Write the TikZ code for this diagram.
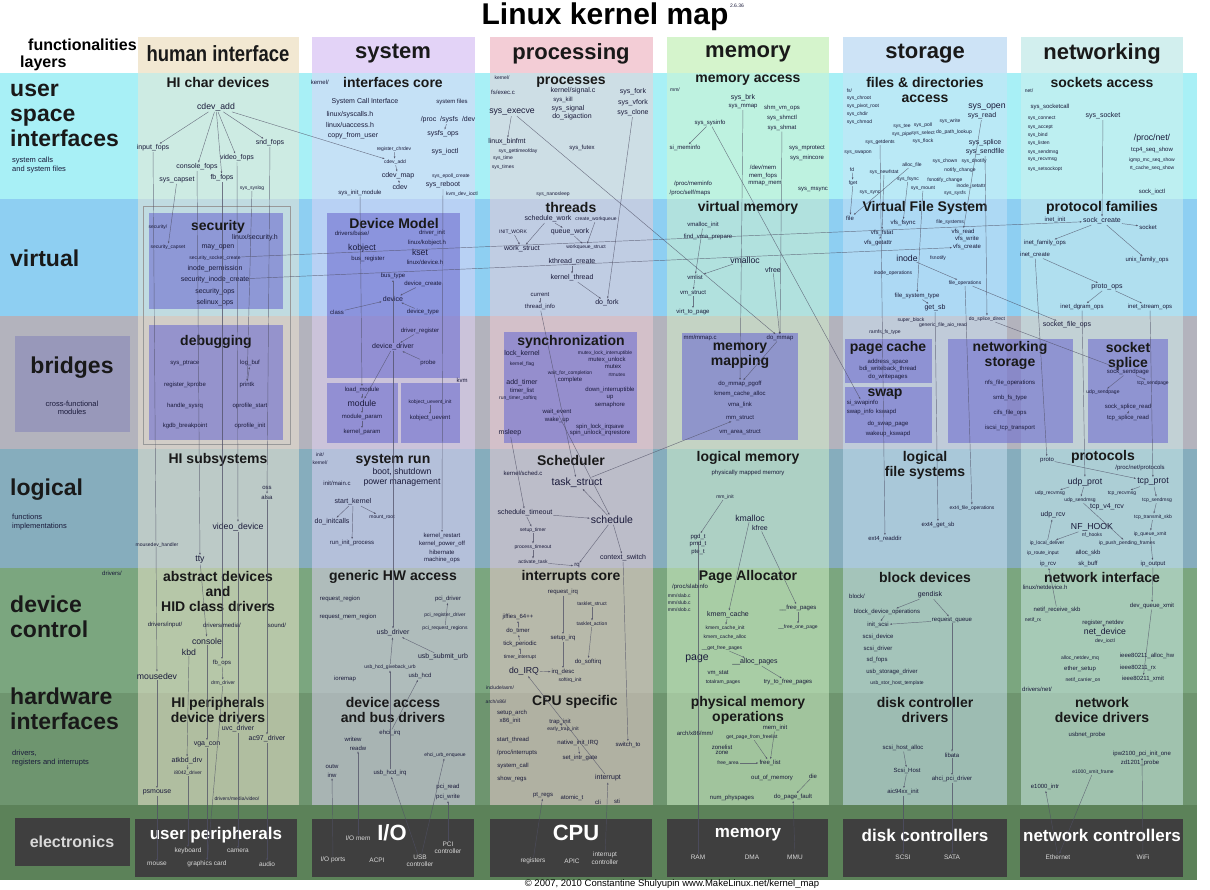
\documentclass[tikz,border=0pt]{standalone}
\usepackage{fontspec}
\setmainfont{Liberation Sans}
\usetikzlibrary{arrows.meta}

\definecolor{rowuser}{HTML}{A8F0F6}
\definecolor{rowvirt}{HTML}{8ECFF2}
\definecolor{rowbridge}{HTML}{B3B3BD}
\definecolor{rowlogic}{HTML}{86ADBD}
\definecolor{rowdev}{HTML}{7BA67F}
\definecolor{rowhw}{HTML}{6E956F}
\definecolor{rowelec}{HTML}{5C8259}
\definecolor{colhi}{HTML}{F2E8D2}
\definecolor{colsys}{HTML}{E3D3F7}
\definecolor{colproc}{HTML}{F3CDD6}
\definecolor{colmem}{HTML}{D5F4CC}
\definecolor{colsto}{HTML}{CDE3F6}
\definecolor{colnet}{HTML}{D2EFEE}
\definecolor{subfill}{HTML}{7070D0}
\definecolor{bridgebox}{HTML}{9898BA}
\definecolor{elgrey}{HTML}{3F3F3F}
\definecolor{ink}{HTML}{1A1A3A}
\definecolor{linkgrey}{HTML}{505066}

\tikzset{
  tn/.style={font=\fontsize{5}{6}\selectfont, inner sep=.6pt, text=ink},
  xs/.style={font=\fontsize{6}{7}\selectfont, inner sep=.6pt, text=ink},
  sm/.style={font=\fontsize{7}{8}\selectfont, inner sep=.7pt, text=ink},
  md/.style={font=\fontsize{8.7}{10}\selectfont, inner sep=.7pt, text=ink},
  lg/.style={font=\fontsize{10.5}{12}\selectfont, inner sep=.7pt, text=ink},
  sect/.style={font=\fontsize{14}{15}\selectfont\bfseries, align=center, inner sep=0pt, text=black!90},
  colhead/.style={font=\fontsize{22}{24}\selectfont\bfseries, inner sep=0pt, text=black!90},
  rowlab/.style={font=\fontsize{23}{25}\selectfont\bfseries, anchor=north west, align=left, inner sep=0pt, text=black!90},
  rownote/.style={font=\fontsize{7.5}{8.5}\selectfont, anchor=north west, align=left, inner sep=0pt, text=ink},
  subbox/.style={fill=subfill, fill opacity=.62},
  elbox/.style={fill=elgrey},
  eltitle/.style={font=\fontsize{17}{18}\selectfont\bfseries, text=white, inner sep=0pt},
  elsub/.style={font=\fontsize{6.5}{7.5}\selectfont, text=white!85!black, align=center, inner sep=.5pt},
  link/.style={draw=linkgrey, draw opacity=.75, line width=.45pt, -{Latex[length=2.4pt,width=1.8pt]}},
}

\begin{document}
\begin{tikzpicture}[x=1pt, y=-1pt]
\useasboundingbox (0,0) rectangle (1210,890);

% rows (layers)
\fill[rowuser] (0,73) rectangle (1197,199);
\fill[rowvirt] (0,199) rectangle (1197,316);
\fill[rowbridge] (0,316) rectangle (1197,449);
\fill[rowlogic] (0,449) rectangle (1197,568);
\fill[rowdev] (0,568) rectangle (1197,693);
\fill[rowhw] (0,693) rectangle (1197,805);
\fill[rowelec] (0,805) rectangle (1197,880);

% columns (functionalities)
\foreach \xa/\xb/\cc in {138/299/colhi, 312/475/colsys, 490/653/colproc, 667/829/colmem, 843/1007/colsto, 1021/1183/colnet}{
  \fill[\cc] (\xa,37) rectangle (\xb,73);
  \fill[\cc, fill opacity=.5] (\xa,73) rectangle (\xb,805);
}

% inner boxes
\draw[draw=black!40, line width=.6pt] (143,206) rectangle (290,444);
\fill[subbox] (149,213) rectangle (283,309);
\fill[subbox] (149,325) rectangle (283,440);
\fill[subbox] (327,213) rectangle (460,378);
\fill[subbox] (327,383) rectangle (398,443);
\fill[subbox] (401,383) rectangle (460,443);
\fill[subbox] (504,332) rectangle (637,443);
\fill[subbox] (682,333) rectangle (798,440);
\fill[subbox] (845,339) rectangle (932,383);
\fill[subbox] (845,387) rectangle (932,443);
\fill[subbox] (948,339) rectangle (1073,443);
\fill[subbox] (1088,339) rectangle (1168,443);

% electronics boxes
\fill[bridgebox] (15,336) rectangle (130,432);
\fill[elbox] (15,818) rectangle (130,866);
\foreach \xa/\xb in {135/297, 312/474, 490/652, 667/828, 843/1007, 1020/1183}{
  \fill[elbox] (\xa,819) rectangle (\xb,877);
}

% title and heads
\node[font=\fontsize{30}{32}\selectfont\bfseries, inner sep=0pt] (title) at (605,17) {Linux kernel map};
\node[tn] (version) at (737,6) {2.6.36};
\node[font=\fontsize{16}{17}\selectfont\bfseries, anchor=west, inner sep=0pt] (lfunc) at (28,45) {functionalities};
\node[font=\fontsize{16}{17}\selectfont\bfseries, anchor=west, inner sep=0pt] (llayers) at (20,63) {layers};
\node[colhead] (hhead) at (218,54) {\scalebox{.84}[1]{human interface}};
\node[colhead] (shead) at (393,54) {system};
\node[colhead] (phead) at (571,54) {processing};
\node[colhead] (mhead) at (748,54) {memory};
\node[colhead] (fhead) at (925,54) {storage};
\node[colhead] (nhead) at (1102,54) {networking};

% layer labels
\node[rowlab] (luser) at (10,84) {user\\space\\interfaces};
\node[rownote] (lusernote) at (12,157) {system calls\\and system files};
\node[rowlab, anchor=west] (lvirt) at (10,258) {virtual};
\node[rowlab, anchor=center, align=center] (lbridge) at (72,368) {bridges};
\node[rownote, anchor=center, align=center] (lbridgenote) at (72,408) {cross-functional\\modules};
\node[rowlab, anchor=west] (llogic) at (10,490) {logical};
\node[rownote] (llogicnote) at (12,514) {functions\\implementations};
\node[rowlab] (ldev) at (10,596) {device\\control};
\node[rowlab] (lhw) at (10,688) {hardware\\interfaces};
\node[rownote] (lhwnote) at (12,750) {drivers,\\registers and interrupts};
\node[font=\fontsize{16}{17}\selectfont\bfseries, text=white!85!black] (lelec) at (72,842) {electronics};
\node[xs] (ldrivers) at (112,573) {drivers/};

% human interface
\node[sect] (hchar) at (218,83) {HI char devices};
\node[md] (hcdev) at (216,107) {cdev\_add};
\node[sm] (hinput) at (153,148) {input\_fops};
\node[sm] (hsnd) at (270,143) {snd\_fops};
\node[sm] (hvideo) at (237,158) {video\_fops};
\node[sm] (hconsole) at (197,167) {console\_fops};
\node[sm] (hcapset) at (177,180) {sys\_capset};
\node[sm] (hfb) at (222,178) {fb\_fops};
\node[tn] (hsyslog) at (252,188) {sys\_syslog};
\node[tn] (hsecdir) at (158,227) {security/};
\node[sect] (hsec) at (218,227) {security};
\node[sm] (hsech) at (255,238) {linux/security.h};
\node[tn] (hseccap) at (168,247) {security\_capset};
\node[sm] (hmayopen) at (218,247) {may\_open};
\node[tn] (hsecsock) at (215,258) {security\_socket\_create};
\node[sm] (hinodeperm) at (215,269) {inode\_permission};
\node[sm] (hsecinode) at (215,280) {security\_inode\_create};
\node[sm] (hsecops) at (215,292) {security\_ops};
\node[sm] (hselinux) at (215,303) {selinux\_ops};
\node[sect] (hdebug) at (216,342) {debugging};
\node[xs] (hptrace) at (185,363) {sys\_ptrace};
\node[xs] (hlogbuf) at (250,363) {log\_buf};
\node[xs] (hkprobe) at (185,385) {register\_kprobe};
\node[xs] (hprintk) at (247,385) {printk};
\node[xs] (hsysrq) at (185,406) {handle\_sysrq};
\node[xs] (hopstart) at (250,406) {oprofile\_start};
\node[xs] (hkgdb) at (185,426) {kgdb\_breakpoint};
\node[xs] (hopinit) at (250,426) {oprofile\_init};
\node[sect] (hsubsys) at (218,460) {HI subsystems};
\node[xs] (hoss) at (267,488) {oss};
\node[xs] (halsa) at (267,497) {alsa};
\node[md] (hviddev) at (238,527) {video\_device};
\node[tn] (hmousehandler) at (157,545) {mousedev\_handler};
\node[md] (htty) at (200,560) {tty};
\node[sect] (habstract) at (218,591) {abstract devices\\and\\HID class drivers};
\node[xs] (hdrvinput) at (165,625) {drivers/input/};
\node[xs] (hdrvmedia) at (222,625) {drivers/media/};
\node[xs] (hsound) at (277,625) {sound/};
\node[md] (hcons) at (207,641) {console};
\node[md] (hkbd) at (189,652) {kbd};
\node[xs] (hfbops) at (222,663) {fb\_ops};
\node[md] (hmousedev) at (157,676) {mousedev};
\node[tn] (hdrm) at (223,683) {drm\_driver};
\node[sect] (hperiph) at (218,710) {HI peripherals\\device drivers};
\node[sm] (huvc) at (238,729) {uvc\_driver};
\node[sm] (hac97) at (267,739) {ac97\_driver};
\node[sm] (hvgacon) at (207,744) {vga\_con};
\node[sm] (hatkbd) at (187,761) {atkbd\_drv};
\node[tn] (hi8042) at (188,773) {i8042\_driver};
\node[sm] (hpsmouse) at (157,792) {psmouse};
\node[tn] (hdrvvideo) at (237,799) {drivers/media/video/};
\node[eltitle] (hperipherals) at (216,835) {user peripherals};
\node[elsub] (hkeyboard) at (188,851) {keyboard};
\node[elsub] (hcamera) at (238,851) {camera};
\node[elsub] (hmouse) at (157,864) {mouse};
\node[elsub] (hgraphics) at (207,864) {graphics card};
\node[elsub] (haudio) at (267,864) {audio};

% system
\node[sect] (score) at (393,83) {interfaces core};
\node[xs, anchor=west] (skernel) at (310,82) {kernel/};
\node[sm] (ssci) at (365,102) {System Call Interface};
\node[xs] (sfiles) at (452,102) {system files};
\node[sm] (ssyscalls) at (350,115) {linux/syscalls.h};
\node[sm] (suaccess) at (350,125) {linux/uaccess.h};
\node[sm] (scopy) at (353,136) {copy\_from\_user};
\node[sm] (sproc) at (448,120) {/proc \ /sysfs \ /dev};
\node[sm] (ssysfsops) at (443,134) {sysfs\_ops};
\node[tn] (sregchr) at (394,149) {register\_chrdev};
\node[tn] (scdevadd) at (395,162) {cdev\_add};
\node[sm] (scdevmap) at (398,176) {cdev\_map};
\node[sm] (scdev) at (400,187) {cdev};
\node[sm] (sioctl) at (445,152) {sys\_ioctl};
\node[tn] (sepoll) at (451,176) {sys\_epoll\_create};
\node[sm] (sreboot) at (443,185) {sys\_reboot};
\node[tn] (skvmioctl) at (462,194) {kvm\_dev\_ioctl};
\node[xs] (sinitmod) at (360,193) {sys\_init\_module};
\node[sect] (sdm) at (394,223) {Device Model};
\node[xs] (sbase) at (352,233) {drivers/base/};
\node[xs] (sdrvinit) at (432,233) {driver\_init};
\node[xs] (skobjh) at (427,243) {linux/kobject.h};
\node[md] (skobj) at (362,248) {kobject};
\node[md] (skset) at (420,252) {kset};
\node[xs] (sbusreg) at (368,259) {bus\_register};
\node[xs] (sdevh) at (425,262) {linux/device.h};
\node[xs] (sbustype) at (393,276) {bus\_type};
\node[xs] (sdevcreate) at (423,284) {device\_create};
\node[sm] (sdevice) at (393,299) {device};
\node[xs] (sclass) at (337,312) {class};
\node[xs] (sdevtype) at (423,312) {device\_type};
\node[xs] (sdrvreg) at (420,331) {driver\_register};
\node[sm] (sdevdrv) at (393,347) {device\_driver};
\node[xs] (sprobe) at (428,363) {probe};
\node[xs] (skvm) at (462,380) {kvm};
\node[xs] (sloadmod) at (362,390) {load\_module};
\node[md] (smodule) at (362,403) {module};
\node[xs] (smodparam) at (362,417) {module\_param};
\node[xs] (skparam) at (362,432) {kernel\_param};
\node[tn] (suevinit) at (430,402) {kobject\_uevent\_init};
\node[xs] (suevent) at (430,418) {kobject\_uevent};
\node[sect] (srun) at (393,460) {system run};
\node[md, align=center] (sboot) at (402,477) {boot, shutdown\\power management};
\node[tn] (sinit) at (320,455) {init/};
\node[tn] (skernel2) at (320,463) {kernel/};
\node[xs] (smainc) at (337,483) {init/main.c};
\node[sm] (sstart) at (353,502) {start\_kernel};
\node[tn] (smount) at (382,517) {mount\_root};
\node[sm] (sinitcalls) at (332,522) {do\_initcalls};
\node[xs] (sruninit) at (352,543) {run\_init\_process};
\node[xs] (srestart) at (442,536) {kernel\_restart};
\node[xs] (spoweroff) at (442,544) {kernel\_power\_off};
\node[xs] (shibernate) at (442,552) {hibernate};
\node[xs] (smachine) at (442,560) {machine\_ops};
\node[sect] (sgeneric) at (393,577) {generic HW access};
\node[xs] (sreqreg) at (340,599) {request\_region};
\node[xs] (sreqmem) at (348,617) {request\_mem\_region};
\node[xs] (spcidrv) at (448,599) {pci\_driver};
\node[tn] (spcireg) at (445,615) {pci\_register\_driver};
\node[tn] (spcireq) at (445,628) {pci\_request\_regions};
\node[sm] (susbdrv) at (393,633) {usb\_driver};
\node[sm] (susbsubmit) at (443,657) {usb\_submit\_urb};
\node[tn] (sgiveback) at (390,667) {usb\_hcd\_giveback\_urb};
\node[xs] (sioremap) at (345,679) {ioremap};
\node[xs] (susbhcd) at (420,676) {usb\_hcd};
\node[sect] (sdevaccess) at (393,710) {device access\\and bus drivers};
\node[xs] (sehciirq) at (390,733) {ehci\_irq};
\node[xs] (swritew) at (353,739) {writew};
\node[xs] (sreadw) at (358,748) {readw};
\node[tn] (sehciurb) at (445,755) {ehci\_urb\_enqueue};
\node[xs] (soutw) at (332,767) {outw};
\node[xs] (sinw) at (332,775) {inw};
\node[xs] (susbhcdirq) at (390,773) {usb\_hcd\_irq};
\node[xs] (spciread) at (448,787) {pci\_read};
\node[xs] (spciwrite) at (448,797) {pci\_write};
\node[font=\fontsize{22}{24}\selectfont\bfseries, text=white, inner sep=0pt] (sio) at (392,833) {I/O};
\node[elsub] (siomem) at (358,838) {I/O mem};
\node[elsub] (spcictl) at (448,848) {PCI\\controller};
\node[elsub] (sioports) at (333,860) {I/O ports};
\node[elsub] (sacpi) at (377,860) {ACPI};
\node[elsub] (susbctl) at (420,861) {USB\\controller};

% processing
\node[sect] (pprocs) at (571,82) {processes};
\node[tn] (pkernel) at (502,78) {kernel/};
\node[xs] (pexec) at (503,92) {fs/exec.c};
\node[sm] (psignalc) at (573,91) {kernel/signal.c};
\node[xs] (pkill) at (563,100) {sys\_kill};
\node[sm] (psignal) at (568,109) {sys\_signal};
\node[sm] (psigaction) at (572,117) {do\_sigaction};
\node[sm] (pfork) at (633,92) {sys\_fork};
\node[sm] (pvfork) at (633,103) {sys\_vfork};
\node[sm] (pclone) at (633,113) {sys\_clone};
\node[md] (pexecve) at (512,112) {sys\_execve};
\node[sm] (pbinfmt) at (507,142) {linux\_binfmt};
\node[tn] (pgtod) at (518,151) {sys\_gettimeofday};
\node[tn] (ptime) at (503,158) {sys\_time};
\node[tn] (ptimes) at (503,167) {sys\_times};
\node[xs] (pfutex) at (582,148) {sys\_futex};
\node[tn] (pnanosleep) at (553,194) {sys\_nanosleep};
\node[sect] (pthreads) at (571,207) {threads};
\node[sm] (pschedwork) at (548,219) {schedule\_work};
\node[tn] (pcreatewq) at (596,219) {create\_workqueue};
\node[tn] (pinitwork) at (513,232) {INIT\_WORK};
\node[sm] (pqueuework) at (570,232) {queue\_work};
\node[sm] (pworkstruct) at (522,249) {work\_struct};
\node[tn] (pwqstruct) at (586,247) {workqueue\_struct};
\node[sm] (pkthread) at (572,262) {kthread\_create};
\node[sm] (pkernthread) at (572,278) {kernel\_thread};
\node[xs] (pcurrent) at (540,295) {current};
\node[xs] (pthreadinfo) at (540,307) {thread\_info};
\node[sm] (pdofork) at (607,303) {do\_fork};
\node[sect] (psync) at (571,342) {synchronization};
\node[sm] (plockkernel) at (522,354) {lock\_kernel};
\node[tn] (pkernelflag) at (522,364) {kernel\_flag};
\node[tn] (pmutexint) at (605,353) {mutex\_lock\_interruptible};
\node[xs] (pmutexunlock) at (607,360) {mutex\_unlock};
\node[xs] (pmutex) at (613,367) {mutex};
\node[tn] (prtmutex) at (617,375) {rtmutex};
\node[tn] (pwaitcompl) at (570,373) {wait\_for\_completion};
\node[xs] (pcomplete) at (570,380) {complete};
\node[sm] (paddtimer) at (522,383) {add\_timer};
\node[xs] (ptimerlist) at (522,391) {timer\_list};
\node[tn] (prunsoftirq) at (518,398) {run\_timer\_softirq};
\node[xs] (pdownint) at (610,390) {down\_interruptible};
\node[xs] (pup) at (610,398) {up};
\node[xs] (psemaphore) at (610,405) {semaphore};
\node[xs] (pwaitevent) at (557,412) {wait\_event};
\node[xs] (pwakeup) at (557,420) {wake\_up};
\node[xs] (pspinlock) at (600,427) {spin\_lock\_irqsave};
\node[xs] (pspinunlock) at (600,433) {spin\_unlock\_irqrestore};
\node[sm] (pmsleep) at (510,433) {msleep};
\node[sect] (psched) at (571,460) {Scheduler};
\node[xs] (pschedc) at (523,473) {kernel/sched.c};
\node[lg] (ptaskstruct) at (577,483) {task\_struct};
\node[sm] (pschedtimeout) at (525,513) {schedule\_timeout};
\node[lg] (pschedule) at (612,520) {schedule};
\node[tn] (psetuptimer) at (533,530) {setup\_timer};
\node[tn] (pproctimeout) at (533,547) {process\_timeout};
\node[tn] (pactivate) at (533,562) {activate\_task};
\node[xs] (prq) at (577,566) {rq};
\node[sm] (pctxswitch) at (623,558) {context\_switch};
\node[sect] (pirqcore) at (571,577) {interrupts core};
\node[xs] (preqirq) at (563,592) {request\_irq};
\node[tn] (ptaskletstruct) at (592,604) {tasklet\_struct};
\node[xs] (pjiffies) at (518,617) {jiffies\_64++};
\node[tn] (ptaskletaction) at (592,624) {tasklet\_action};
\node[xs] (pdotimer) at (518,631) {do\_timer};
\node[xs] (psetupirq) at (563,638) {setup\_irq};
\node[xs] (ptickper) at (520,644) {tick\_periodic};
\node[tn] (ptimerint) at (520,657) {timer\_interrupt};
\node[xs] (pdosoftirq) at (588,662) {do\_softirq};
\node[md] (pdoirq) at (524,671) {do\_IRQ};
\node[xs] (pirqdesc) at (563,672) {irq\_desc};
\node[tn] (psoftirqinit) at (570,680) {softirq\_init};
\node[tn] (pincasm) at (500,688) {include/asm/};
\node[sect] (pcpuspec) at (575,702) {CPU specific};
\node[tn] (parch) at (496,702) {arch/x86/};
\node[xs] (psetuparch) at (512,713) {setup\_arch};
\node[xs] (px86init) at (510,721) {x86\_init};
\node[xs] (ptrapinit) at (560,722) {trap\_init};
\node[tn] (pearlytrap) at (563,729) {early\_trap\_init};
\node[xs] (pstartthread) at (513,740) {start\_thread};
\node[xs] (pnativeirq) at (578,743) {native\_init\_IRQ};
\node[xs] (pswitchto) at (628,745) {switch\_to};
\node[xs] (pprocint) at (517,753) {/proc/interrupts};
\node[xs] (psetintr) at (580,758) {set\_intr\_gate};
\node[xs] (psyscall) at (513,766) {system\_call};
\node[xs] (pshowregs) at (512,779) {show\_regs};
\node[sm] (pinterrupt) at (608,778) {interrupt};
\node[xs] (pptregs) at (543,795) {pt\_regs};
\node[xs] (patomic) at (572,798) {atomic\_t};
\node[xs] (pcli) at (598,802) {cli};
\node[xs] (psti) at (617,801) {sti};
\node[font=\fontsize{22}{24}\selectfont\bfseries, text=white, inner sep=0pt] (pcpu) at (576,833) {CPU};
\node[elsub] (pregisters) at (533,861) {registers};
\node[elsub] (papic) at (572,861) {APIC};
\node[elsub] (pintctl) at (605,858) {interrupt\\controller};

% memory
\node[sect] (maccess) at (748,80) {memory access};
\node[tn] (mmm) at (675,90) {mm/};
\node[sm] (mbrk) at (743,98) {sys\_brk};
\node[xs] (msysmmap) at (743,107) {sys\_mmap};
\node[xs] (mshmvmops) at (782,108) {shm\_vm\_ops};
\node[xs] (mshmctl) at (782,118) {sys\_shmctl};
\node[xs] (mshmat) at (782,128) {sys\_shmat};
\node[xs] (msysinfo) at (710,123) {sys\_sysinfo};
\node[xs] (msimeminfo) at (685,148) {si\_meminfo};
\node[xs] (mmprotect) at (807,148) {sys\_mprotect};
\node[xs] (mmincore) at (807,158) {sys\_mincore};
\node[xs] (mdevmem) at (763,167) {/dev/mem};
\node[xs] (mmemfops) at (763,176) {mem\_fops};
\node[xs] (mmmapmem) at (765,184) {mmap\_mem};
\node[xs] (mprocmeminfo) at (693,184) {/proc/meminfo};
\node[xs] (mprocmaps) at (690,193) {/proc/self/maps};
\node[xs] (mmsync) at (813,190) {sys\_msync};
\node[sect] (mvirt) at (748,208) {virtual memory};
\node[xs] (mvmallocinit) at (703,225) {vmalloc\_init};
\node[xs] (mfindvma) at (708,237) {find\_vma\_prepare};
\node[md] (mvmalloc) at (745,260) {vmalloc};
\node[sm] (mvfree) at (773,270) {vfree};
\node[xs] (mvmlist) at (695,277) {vmlist};
\node[xs] (mvmstruct) at (693,293) {vm\_struct};
\node[xs] (mvirttopage) at (693,312) {virt\_to\_page};
\node[xs] (mmmapc) at (700,338) {mm/mmap.c};
\node[xs] (mdommap) at (780,338) {do\_mmap};
\node[sect] (mmapping) at (740,356) {memory\\mapping};
\node[xs] (mdommappgoff) at (740,384) {do\_mmap\_pgoff};
\node[xs] (mkmcalloc) at (740,394) {kmem\_cache\_alloc};
\node[xs] (mvmalink) at (740,405) {vma\_link};
\node[xs] (mmmstruct) at (740,418) {mm\_struct};
\node[xs] (mvmarea) at (740,432) {vm\_area\_struct};
\node[sect] (mlogical) at (748,458) {logical memory};
\node[xs] (mphysmapped) at (748,473) {physically mapped memory};
\node[tn] (mmminit) at (725,497) {mm\_init};
\node[md] (mkmalloc) at (750,518) {kmalloc};
\node[sm] (mkfree) at (760,528) {kfree};
\node[xs] (mpgd) at (698,537) {pgd\_t};
\node[xs] (mpmd) at (698,544) {pmd\_t};
\node[xs] (mpte) at (698,552) {pte\_t};
\node[sect] (mpagealloc) at (748,577) {Page Allocator};
\node[xs] (mslabinfo) at (690,587) {/proc/slabinfo};
\node[tn, anchor=west] (mslab) at (667,596) {mm/slab.c};
\node[tn, anchor=west] (mslub) at (667,603) {mm/slub.c};
\node[tn, anchor=west] (mslob) at (667,610) {mm/slob.c};
\node[sm] (mkmemcache) at (728,615) {kmem\_cache};
\node[xs] (mfreepages) at (798,608) {\_\_free\_pages};
\node[tn] (mkmcinit) at (725,628) {kmem\_cache\_init};
\node[tn] (mkmcalloc2) at (725,637) {kmem\_cache\_alloc};
\node[tn] (mfreeonepage) at (798,627) {\_\_free\_one\_page};
\node[tn] (mgetfree) at (722,648) {\_\_get\_free\_pages};
\node[lg] (mpage) at (697,659) {page};
\node[sm] (mallocpages) at (755,662) {\_\_alloc\_pages};
\node[xs] (mvmstat) at (718,673) {vm\_stat};
\node[tn] (mtotalram) at (723,682) {totalram\_pages};
\node[xs] (mtrytofree) at (788,682) {try\_to\_free\_pages};
\node[sect] (mphysops) at (748,710) {physical memory\\operations};
\node[xs] (marchmm) at (695,733) {arch/x86/mm/};
\node[xs] (mmeminit) at (775,728) {mem\_init};
\node[tn] (mgetpage) at (752,737) {get\_page\_from\_freelist};
\node[xs] (mzonelist) at (722,747) {zonelist};
\node[xs] (mzone) at (722,753) {zone};
\node[tn] (mfreearea) at (728,763) {free\_area};
\node[xs] (mfreelist) at (770,763) {free\_list};
\node[xs] (moom) at (772,778) {out\_of\_memory};
\node[xs] (mdie) at (813,776) {die};
\node[xs] (mnumphys) at (732,798) {num\_physpages};
\node[xs] (mdopagefault) at (793,797) {do\_page\_fault};
\node[eltitle] (mmemory) at (748,835) {memory};
\node[elsub] (mram) at (698,857) {RAM};
\node[elsub] (mdma) at (752,857) {DMA};
\node[elsub] (mmmu) at (795,857) {MMU};

% storage
\node[sect] (ffiles) at (925,90) {files \& directories\\access};
\node[tn, anchor=west] (ffs) at (846,91) {fs/};
\node[tn, anchor=west] (fchroot) at (846,98) {sys\_chroot};
\node[tn, anchor=west] (fpivot) at (846,106) {sys\_pivot\_root};
\node[tn, anchor=west] (fchdir) at (846,114) {sys\_chdir};
\node[tn, anchor=west] (fchmod) at (846,122) {sys\_chmod};
\node[md] (fsysopen) at (987,107) {sys\_open};
\node[sm] (fsysread) at (982,116) {sys\_read};
\node[tn] (fsyswrite) at (950,121) {sys\_write};
\node[tn] (ftee) at (902,126) {sys\_tee};
\node[tn] (fpipe) at (902,134) {sys\_pipe};
\node[tn] (fpoll) at (923,125) {sys\_poll};
\node[tn] (fselect) at (923,133) {sys\_select};
\node[tn] (fflock) at (923,141) {sys\_flock};
\node[tn] (fpathlookup) at (954,132) {do\_path\_lookup};
\node[tn] (fgetdents) at (880,142) {sys\_getdents};
\node[sm] (fsplice) at (985,143) {sys\_splice};
\node[sm] (fsendfile) at (985,152) {sys\_sendfile};
\node[tn] (fswapon) at (858,153) {sys\_swapon};
\node[tn] (fallocfile) at (912,165) {alloc\_file};
\node[tn] (ffd) at (852,170) {fd};
\node[tn] (ffget) at (853,183) {fget};
\node[tn] (fnewfstat) at (884,172) {sys\_newfstat};
\node[tn] (fchown) at (945,161) {sys\_chown};
\node[tn] (fdnotify) at (974,161) {sys\_dnotify};
\node[tn] (fnotifychange) at (960,170) {notify\_change};
\node[tn] (fsysfsync) at (908,179) {sys\_fsync};
\node[tn] (ffsnotifychange) at (945,180) {fsnotify\_change};
\node[tn] (fsysmount) at (923,188) {sys\_mount};
\node[tn] (finodesetattr) at (971,186) {inode\_setattr};
\node[tn] (fsync) at (870,193) {sys\_sync};
\node[tn] (fsysfs) at (955,193) {sys\_sysfs};
\node[sect] (fvfs) at (925,208) {Virtual File System};
\node[xs] (ffile) at (850,218) {file};
\node[xs] (fvfsfsync) at (903,223) {vfs\_fsync};
\node[tn] (ffilesystems) at (950,222) {file\_systems};
\node[xs] (fvfsfstat) at (882,233) {vfs\_fstat};
\node[xs] (fvfsread) at (963,232) {vfs\_read};
\node[xs] (fvfsgetattr) at (878,243) {vfs\_getattr};
\node[xs] (fvfswrite) at (967,239) {vfs\_write};
\node[xs] (fvfscreate) at (967,247) {vfs\_create};
\node[md] (finode) at (907,258) {inode};
\node[tn] (ffsnotify) at (938,258) {fsnotify};
\node[tn] (finodeops) at (893,273) {inode\_operations};
\node[tn] (ffops) at (965,283) {file\_operations};
\node[xs] (ffstype) at (917,296) {file\_system\_type};
\node[sm] (fgetsb) at (935,308) {get\_sb};
\node[tn] (fsuperblock) at (911,320) {super\_block};
\node[tn] (faioread) at (943,325) {generic\_file\_aio\_read};
\node[tn] (fsplicedirect) at (987,319) {do\_splice\_direct};
\node[tn] (framfs) at (885,332) {ramfs\_fs\_type};
\node[sect] (fpagecache) at (888,348) {page cache};
\node[xs] (faddrspace) at (888,362) {address\_space};
\node[xs] (fbdi) at (888,369) {bdi\_writeback\_thread};
\node[xs] (fwritepages) at (888,377) {do\_writepages};
\node[sect] (fswap) at (885,394) {swap};
\node[xs, anchor=west] (fsiswap) at (846,403) {si\_swapinfo};
\node[xs, anchor=west] (fswapinfo) at (846,412) {swap\_info};
\node[xs] (fkswapd) at (886,412) {kswapd};
\node[xs] (fdoswap) at (888,424) {do\_swap\_page};
\node[xs] (fwakeup) at (888,434) {wakeup\_kswapd};
\node[sect] (fnetstor) at (1010,355) {networking\\storage};
\node[xs] (fnfs) at (1010,383) {nfs\_file\_operations};
\node[xs] (fsmb) at (1010,398) {smb\_fs\_type};
\node[xs] (fcifs) at (1010,413) {cifs\_file\_ops};
\node[xs] (fiscsi) at (1010,428) {iscsi\_tcp\_transport};
\node[sect] (flogfs) at (925,465) {logical\\file systems};
\node[tn] (fext4fops) at (972,508) {ext4\_file\_operations};
\node[xs] (fext4getsb) at (938,525) {ext4\_get\_sb};
\node[xs] (fext4readdir) at (885,539) {ext4\_readdir};
\node[sect] (fblock) at (925,577) {block devices};
\node[xs] (fblockdir) at (857,596) {block/};
\node[sm] (fgendisk) at (930,595) {gendisk};
\node[xs] (fbdops) at (887,612) {block\_device\_operations};
\node[xs] (frq) at (952,620) {request\_queue};
\node[xs] (finitscsi) at (878,625) {init\_scsi};
\node[xs] (fscsidev) at (878,637) {scsi\_device};
\node[xs] (fscsidrv) at (878,649) {scsi\_driver};
\node[xs] (fsdfops) at (877,660) {sd\_fops};
\node[xs] (fusbstor) at (892,672) {usb\_storage\_driver};
\node[tn] (fusbhost) at (897,683) {usb\_stor\_host\_template};
\node[sect] (fdiskdrv) at (925,710) {disk controller\\drivers};
\node[xs] (fscsialloc) at (903,748) {scsi\_host\_alloc};
\node[xs] (flibata) at (952,755) {libata};
\node[xs] (fscsihost) at (907,771) {Scsi\_Host};
\node[xs] (fahci) at (952,779) {ahci\_pci\_driver};
\node[xs] (faic) at (903,792) {aic94xx\_init};
\node[eltitle] (fdisk) at (925,835) {disk controllers};
\node[elsub] (fscsi) at (903,857) {SCSI};
\node[elsub] (fsata) at (952,857) {SATA};

% networking
\node[sect] (nsockacc) at (1102,83) {sockets access};
\node[tn, anchor=west] (nnet) at (1024,91) {net/};
\node[xs] (nsocketcall) at (1050,107) {sys\_socketcall};
\node[tn, anchor=west] (nconnect) at (1027,118) {sys\_connect};
\node[tn, anchor=west] (naccept) at (1027,127) {sys\_accept};
\node[tn, anchor=west] (nbind) at (1027,135) {sys\_bind};
\node[tn, anchor=west] (nlisten) at (1027,143) {sys\_listen};
\node[tn, anchor=west] (nsendmsg) at (1027,152) {sys\_sendmsg};
\node[tn, anchor=west] (nrecvmsg) at (1027,160) {sys\_recvmsg};
\node[tn, anchor=west] (nsetsockopt) at (1027,169) {sys\_setsockopt};
\node[sm] (nsyssocket) at (1103,116) {sys\_socket};
\node[md] (nprocnet) at (1152,138) {/proc/net/};
\node[xs] (ntcp4seq) at (1152,150) {tcp4\_seq\_show};
\node[tn] (nigmpseq) at (1152,160) {igmp\_mc\_seq\_show};
\node[tn] (nrtcache) at (1152,168) {rt\_cache\_seq\_show};
\node[xs] (nsockioctl) at (1152,192) {sock\_ioctl};
\node[sect] (nprotofam) at (1102,208) {protocol families};
\node[xs] (ninetinit) at (1055,220) {inet\_init};
\node[sm] (nsockcreate) at (1102,221) {sock\_create};
\node[xs] (nsocket) at (1148,227) {socket};
\node[xs] (ninetfam) at (1045,243) {inet\_family\_ops};
\node[xs] (ninetcreate) at (1035,255) {inet\_create};
\node[xs] (nunixfam) at (1147,260) {unix\_family\_ops};
\node[sm] (nprotoops) at (1107,287) {proto\_ops};
\node[xs] (ndgram) at (1082,307) {inet\_dgram\_ops};
\node[xs] (nstream) at (1150,307) {inet\_stream\_ops};
\node[sm] (nsockfileops) at (1067,325) {socket\_file\_ops};
\node[sect] (nsplice) at (1128,356) {socket\\splice};
\node[xs] (nsendpage) at (1128,372) {sock\_sendpage};
\node[tn] (ntcpsendpage) at (1153,383) {tcp\_sendpage};
\node[tn] (nudpsendpage) at (1103,392) {udp\_sendpage};
\node[xs] (nsplread) at (1128,407) {sock\_splice\_read};
\node[xs] (ntcpsplread) at (1128,418) {tcp\_splice\_read};
\node[sect] (nprotocols) at (1103,457) {protocols};
\node[xs] (nproto) at (1047,460) {proto};
\node[xs] (nprocproto) at (1140,468) {/proc/net/protocols};
\node[md] (nudpprot) at (1085,482) {udp\_prot};
\node[md] (ntcpprot) at (1153,482) {tcp\_prot};
\node[tn] (nudprecv) at (1050,493) {udp\_recvmsg};
\node[tn] (nudpsend) at (1080,500) {udp\_sendmsg};
\node[tn] (ntcprecv) at (1122,493) {tcp\_recvmsg};
\node[tn] (ntcpsend) at (1157,500) {tcp\_sendmsg};
\node[sm] (ntcpv4rcv) at (1107,507) {tcp\_v4\_rcv};
\node[sm] (nudprcv) at (1053,515) {udp\_rcv};
\node[tn] (ntcptx) at (1153,517) {tcp\_transmit\_skb};
\node[md] (nnfhook) at (1092,527) {NF\_HOOK};
\node[tn] (nnfhooks) at (1092,535) {nf\_hooks};
\node[tn] (nipqueue) at (1150,534) {ip\_queue\_xmit};
\node[tn] (niplocal) at (1047,543) {ip\_local\_deliver};
\node[tn] (nippush) at (1127,543) {ip\_push\_pending\_frames};
\node[tn] (niproute) at (1043,553) {ip\_route\_input};
\node[xs] (nallocskb) at (1088,553) {alloc\_skb};
\node[xs] (niprcv) at (1048,564) {ip\_rcv};
\node[xs] (nskbuff) at (1088,564) {sk\_buff};
\node[xs] (nipoutput) at (1153,564) {ip\_output};
\node[sect] (nnetif) at (1102,577) {network interface};
\node[xs, anchor=west] (nnetdevh) at (1022,587) {linux/netdevice.h};
\node[xs] (nrecvskb) at (1057,610) {netif\_receive\_skb};
\node[tn] (nnetifrx) at (1033,620) {netif\_rx};
\node[xs] (ndevqueue) at (1152,606) {dev\_queue\_xmit};
\node[xs] (nregnetdev) at (1103,623) {register\_netdev};
\node[md] (nnetdevice) at (1105,632) {net\_device};
\node[tn] (ndevioctl) at (1105,641) {dev\_ioctl};
\node[tn] (nallocnetdev) at (1080,658) {alloc\_netdev\_mq};
\node[xs] (nieeealloc) at (1147,656) {ieee80211\_alloc\_hw};
\node[xs] (nethersetup) at (1080,669) {ether\_setup};
\node[xs] (nieeerx) at (1138,668) {ieee80211\_rx};
\node[tn] (ncarrier) at (1083,680) {netif\_carrier\_on};
\node[xs] (nieeexmit) at (1143,679) {ieee80211\_xmit};
\node[xs] (ndrvnet) at (1037,689) {drivers/net/};
\node[sect] (nnetdrv) at (1102,710) {network\\device drivers};
\node[xs] (nusbnet) at (1087,735) {usbnet\_probe};
\node[xs] (nipw) at (1142,754) {ipw2100\_pci\_init\_one};
\node[xs] (nzd) at (1140,763) {zd1201\_probe};
\node[tn] (ne1000xmit) at (1093,772) {e1000\_xmit\_frame};
\node[xs] (ne1000intr) at (1045,787) {e1000\_intr};
\node[eltitle] (nnetctl) at (1102,835) {network controllers};
\node[elsub] (nethernet) at (1058,857) {Ethernet};
\node[elsub] (nwifi) at (1143,857) {WiFi};

% footer
\node[font=\fontsize{9.5}{10}\selectfont, inner sep=0pt] (footer) at (672,884) {© 2007, 2010 Constantine Shulyupin www.MakeLinux.net/kernel\_map};

% connectors
\foreach \a/\b in {hcdev/hinput, hcdev/hconsole, hcdev/hfb, hcdev/hvideo, hcdev/hsnd, hcdev/scdevadd,
  hcapset/hseccap, hsyslog/hprintk, hprintk/hlogbuf, hinput/hmousedev, hmousedev/hpsmouse, hpsmouse/hmouse,
  hconsole/htty, htty/hcons, hcons/hvgacon, hfb/hfbops, hfbops/hdrm, hdrm/hgraphics, hvgacon/hgraphics,
  hvideo/hviddev, hviddev/huvc, huvc/hcamera, hsnd/halsa, halsa/hac97, hac97/haudio,
  hkbd/hatkbd, hatkbd/hi8042, hi8042/hkeyboard, hsecsock/nsockcreate, hsecinode/fvfscreate}
  \draw[link] (\a) -- (\b);
\foreach \a/\b in {sregchr/scdevadd, scdevadd/scdevmap, scdevmap/scdev, sproc/ssysfsops, sinitmod/sloadmod,
  sdevdrv/sbustype, sdevcreate/sdevice, sclass/sdevice, sdevtype/sdevice, sdrvreg/sdevdrv, sprobe/sdevdrv,
  sdevdrv/smodule, sloadmod/smodule, smodule/smodparam, smodparam/skparam, suevinit/suevent,
  sreboot/srestart, sstart/sinitcalls, sstart/sruninit, sstart/smount, sdevdrv/susbdrv, susbsubmit/susbdrv,
  sgiveback/susbdrv, susbhcdirq/sgiveback, susbctl/susbhcdirq, susbctl/sehciurb, spcictl/spciwrite,
  spcireq/spcidrv, sioports/sinw, siomem/sreadw, sehciirq/susbhcd}
  \draw[link] (\a) -- (\b);
\foreach \a/\b in {pexecve/pbinfmt, pexecve/mdommap, pclone/pdofork, pschedwork/pworkstruct, pschedwork/pqueuework,
  pinitwork/pworkstruct, pqueuework/pwqstruct, pcreatewq/pwqstruct, pkthread/pkernthread, pkernthread/pdofork,
  pcurrent/pthreadinfo, pthreadinfo/ptaskstruct, pmsleep/pschedtimeout, pwaitevent/pschedule,
  pschedtimeout/pschedule, pschedtimeout/psetuptimer, psetuptimer/pproctimeout, pproctimeout/pactivate,
  pactivate/prq, pschedule/prq, pschedule/ptaskstruct, pschedule/pctxswitch, pctxswitch/pswitchto,
  preqirq/psetupirq, psetupirq/pirqdesc, pdoirq/pirqdesc, ptimerint/ptickper, ptickper/pdotimer,
  pdotimer/pjiffies, ptaskletstruct/ptaskletaction, ptaskletaction/pdosoftirq, pinterrupt/pdoirq,
  pintctl/pinterrupt, pregisters/pptregs, pnativeirq/psetintr, ptrapinit/pearlytrap, ptaskstruct/mmmstruct}
  \draw[link] (\a) -- (\b);
\foreach \a/\b in {msysinfo/msimeminfo, msysinfo/fsiswap, msysmmap/mdommappgoff, mshmat/mdommap,
  mdommap/mdommappgoff, mvmalloc/mvmlist, mvmallocinit/mvmlist, mvmlist/mvmstruct, mvmstruct/mvirttopage,
  mvfree/mdommap, mkmalloc/mkmemcache, mkfree/mfreepages, mmminit/mpgd, mkmemcache/mkmcinit,
  mfreepages/mfreeonepage, mgetfree/mallocpages, mallocpages/mtrytofree, mfreearea/mfreelist,
  mgetpage/mfreelist, mmeminit/mfreelist, mdie/mdopagefault, mmmu/mdopagefault, mram/mpgd}
  \draw[link] (\a) -- (\b);
\foreach \a/\b in {fsysfsync/fvfsfsync, fnewfstat/fvfsfstat, fvfsfstat/fvfsgetattr, fallocfile/ffile,
  ffd/ffget, ffget/ffile, fsysmount/ffstype, ffstype/fgetsb, fgetsb/fext4getsb, finode/ffops,
  ffops/fext4fops, fsysread/fvfsread, fgetdents/fext4readdir, fsendfile/fsplicedirect, ffops/nsockfileops,
  fgendisk/fbdops, fgendisk/frq, frq/finitscsi, fbdops/finitscsi, frq/flibata, fscsialloc/fscsihost,
  fscsihost/faic, faic/fscsi, flibata/fahci, fahci/fsata, fsplicedirect/nsendpage}
  \draw[link] (\a) -- (\b);
\foreach \a/\b in {nsyssocket/nsockcreate, nsockcreate/nsocket, nsockcreate/ninetfam, nsockcreate/nunixfam,
  ninetcreate/nprotoops, nprotoops/ndgram, nprotoops/nstream, ndgram/nudpprot, nstream/ntcpprot,
  nproto/ntcpprot, nudpprot/nudprecv, nudpprot/nudpsend, ntcpprot/ntcprecv, ntcpprot/ntcpsend,
  ntcpsend/ntcptx, ntcptx/nipqueue, nipqueue/nipoutput, niplocal/nudprcv, nnfhook/niplocal,
  nrecvskb/niprcv, nipoutput/ndevqueue, ndevqueue/nieeexmit, nwifi/nipw, nethernet/ne1000intr,
  ne1000xmit/nethernet, nsendpage/ntcpsendpage, nsendpage/nudpsendpage, nsplread/ntcpsplread,
  nregnetdev/nnetdevice, ninetcreate/nproto, nudpsend/nippush}
  \draw[link] (\a) -- (\b);

\end{tikzpicture}
\end{document}
